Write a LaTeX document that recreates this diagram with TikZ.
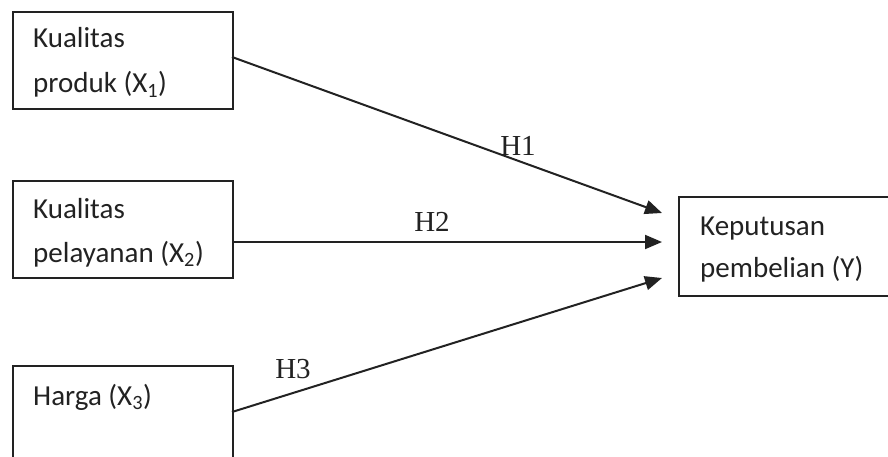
\documentclass[tikz,border=0pt]{standalone}
\usepackage{fontspec}
\setmainfont{Liberation Serif}
\newfontfamily\boxfont{Carlito}
\usetikzlibrary{arrows.meta}
\definecolor{ink}{HTML}{222222}
\begin{document}
\begin{tikzpicture}[x=1pt,y=-1pt,
  varbox/.style={draw=ink,line width=1.6pt,anchor=north west,inner sep=0pt},
  vartext/.style={anchor=base west,inner sep=0pt,text=ink,font=\boxfont\fontsize{29}{34}\selectfont},
  hyp/.style={anchor=base,inner sep=0pt,text=ink,font=\fontsize{29}{34}\selectfont},
  link/.style={draw=ink,line width=2pt,-{Triangle[length=17pt,width=14pt]}}]
\useasboundingbox (0,0) rectangle (888,457);
\clip (0,0) rectangle (888,457);
% variable boxes
\node[varbox,minimum width=220pt,minimum height=97pt] (b1) at (12,11) {};
\node[varbox,minimum width=220pt,minimum height=97pt] (b2) at (12,180) {};
\node[varbox,minimum width=220pt,minimum height=100pt] (b3) at (12,365) {};
\node[varbox,minimum width=220pt,minimum height=99pt] (by) at (678,196) {};
% box texts
\node[vartext] (t1a) at (33,48) {Kualitas};
\node[vartext] (t1b) at (33,93) {produk (X\textsubscript{1})};
\node[vartext] (t2a) at (33,218) {Kualitas};
\node[vartext] (t2b) at (33,262) {pelayanan (X\textsubscript{2})};
\node[vartext] (t3) at (33,405) {Harga (X\textsubscript{3})};
\node[vartext] (tya) at (700,235) {Keputusan};
\node[vartext] (tyb) at (700,277) {pembelian (Y)};
% connector end points
\coordinate (s1) at (232,57);
\coordinate (s2) at (232,242);
\coordinate (s3) at (232,412);
\coordinate (e1) at (662,213);
\coordinate (e2) at (662,242);
\coordinate (e3) at (662,278);
\draw[link] (s1) -- (e1);
\draw[link] (s2) -- (e2);
\draw[link] (s3) -- (e3);
% hypothesis labels
\node[hyp] (h1) at (518,156) {H1};
\node[hyp] (h2) at (432,231) {H2};
\node[hyp] (h3) at (293,378) {H3};
\end{tikzpicture}
\end{document}
